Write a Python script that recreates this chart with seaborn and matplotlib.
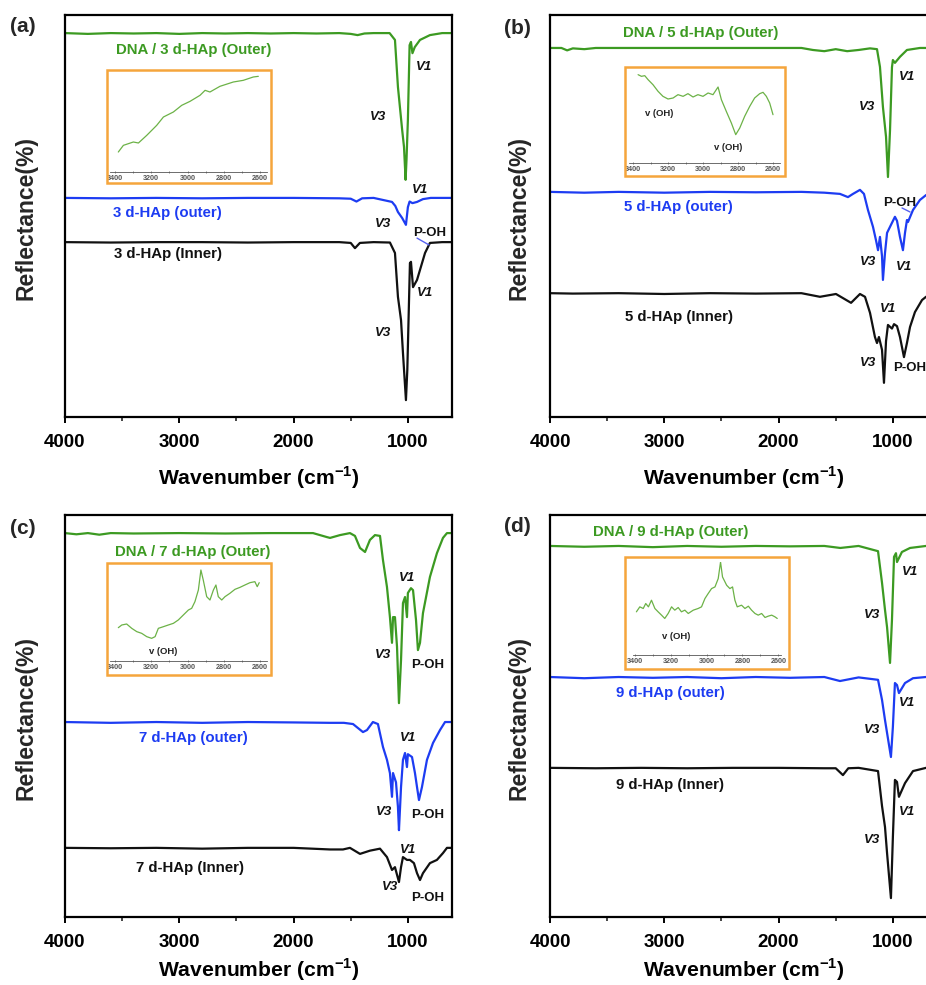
import matplotlib
matplotlib.use('Agg')
import matplotlib.pyplot as plt
import seaborn as sns
from matplotlib.patches import Rectangle
from matplotlib.ticker import MultipleLocator

# ---- spectra (wavenumber, reflectance in arbitrary offset units) ----
a_green_wn = [4000, 3800, 3600, 3400, 3200, 3000, 2800, 2600, 2400, 2200, 2000, 1800, 1600, 1500, 1440, 1380, 1300,
              1160, 1113, 1087, 1050, 1034, 1020, 1012, 1000, 985, 973, 960, 940, 894, 807, 700, 614]
a_green = [95.5, 95.3, 95.5, 95.4, 95.5, 95.3, 95.5, 95.4, 95.5, 95.4, 95.5, 95.4, 95.5, 95.3, 95.0, 95.4, 95.5,
           95.5, 93.8, 82.1, 71.4, 67.2, 59.0, 64.0, 73.9, 92.5, 93.3, 90.5, 92.0, 93.8, 95.0, 95.5, 95.5]
a_blue_wn = [4000, 3600, 3200, 2800, 2400, 2000, 1600, 1500, 1450, 1400, 1300, 1139, 1110, 1087, 1050, 1017, 1000,
             985, 960, 920, 868, 800, 614]
a_blue = [54.5, 54.4, 54.5, 54.4, 54.5, 54.5, 54.4, 54.3, 53.6, 54.4, 54.5, 53.5, 52.5, 51.0, 49.5, 47.8, 52.2,
          53.6, 53.2, 53.5, 54.2, 54.5, 54.5]
a_black_wn = [4000, 3600, 3200, 2800, 2400, 2000, 1600, 1500, 1463, 1420, 1300, 1157, 1113, 1087, 1060, 1043, 1017,
              1005, 982, 973, 955, 920, 850, 807, 700, 614]
a_black = [43.5, 43.4, 43.5, 43.5, 43.4, 43.5, 43.5, 43.3, 42.0, 43.3, 43.5, 43.4, 40.8, 29.9, 24.1, 15.9, 4.2,
           11.7, 38.3, 38.6, 32.3, 34.1, 40.8, 43.3, 43.5, 43.5]

b_green_wn = [4000, 3900, 3850, 3800, 3700, 3600, 3200, 2800, 2400, 2000, 1800, 1700, 1600, 1500, 1400, 1300, 1200,
              1139, 1113, 1087, 1060, 1043, 1025, 1008, 1000, 982, 938, 877, 763, 614]
b_green = [91.8, 91.8, 91.2, 91.7, 91.5, 91.8, 91.8, 91.8, 91.8, 91.8, 91.8, 91.3, 91.0, 91.5, 91.0, 91.3, 91.7,
           91.5, 87.1, 77.1, 69.7, 59.7, 71.4, 87.0, 88.8, 88.1, 89.6, 91.3, 91.8, 91.8]
b_blue_wn = [4000, 3700, 3400, 3000, 2600, 2200, 1800, 1600, 1463, 1393, 1349, 1288, 1253, 1218, 1174, 1148, 1130,
             1113, 1095, 1087, 1069, 1051, 1008, 982, 964, 938, 912, 894, 877, 868, 824, 763, 710, 614]
b_blue = [56.0, 55.8, 56.0, 55.8, 56.0, 55.9, 56.0, 55.8, 55.5, 54.7, 55.5, 56.5, 55.5, 51.5, 47.3, 44.0, 41.5,
          44.8, 40.0, 34.1, 40.8, 45.8, 48.3, 49.8, 48.8, 44.8, 41.5, 45.8, 49.0, 48.5, 51.5, 54.0, 55.2, 56.0]
b_black_wn = [4000, 3800, 3400, 3000, 2600, 2200, 1800, 1638, 1498, 1366, 1288, 1244, 1200, 1157, 1139, 1122, 1095,
              1078, 1060, 1043, 1008, 990, 964, 938, 903, 877, 850, 807, 745, 710, 614]
b_black = [30.8, 30.7, 30.8, 30.6, 30.8, 30.7, 30.8, 29.9, 30.6, 28.4, 30.6, 29.9, 25.9, 19.9, 18.4, 19.9, 16.7,
           8.5, 18.9, 22.9, 22.0, 23.1, 22.6, 19.9, 14.9, 18.4, 22.4, 26.1, 29.1, 29.9, 30.8]

c_green_wn = [4000, 3900, 3800, 3700, 3600, 3400, 3000, 2600, 2200, 1830, 1708, 1681, 1594, 1507, 1463, 1419, 1375,
              1332, 1288, 1244, 1218, 1183, 1157, 1139, 1130, 1113, 1095, 1078, 1060, 1043, 1025, 1008, 1000, 973,
              955, 929, 912, 894, 868, 807, 746, 693, 658, 614]
c_green = [95.5, 95.2, 95.5, 95.1, 95.5, 95.4, 95.5, 95.4, 95.5, 95.5, 94.5, 94.3, 95.0, 95.5, 94.8, 91.8, 90.8,
           93.8, 95.0, 94.8, 88.8, 82.1, 74.6, 68.2, 74.6, 74.6, 67.2, 53.2, 63.9, 78.1, 79.6, 74.6, 80.6, 81.8,
           81.3, 73.9, 66.4, 68.2, 75.6, 84.6, 90.5, 94.3, 95.5, 95.5]
c_blue_wn = [4000, 3600, 3200, 2800, 2400, 2000, 1681, 1560, 1480, 1393, 1358, 1306, 1262, 1218, 1183, 1157, 1139,
             1130, 1104, 1087, 1078, 1060, 1043, 1025, 1008, 1000, 964, 938, 920, 903, 877, 833, 780, 719, 675, 614]
c_blue = [48.5, 48.3, 48.5, 48.3, 48.5, 48.4, 48.3, 48.3, 48.0, 46.0, 46.5, 48.5, 48.0, 42.3, 39.1, 35.8, 29.9,
          35.8, 33.5, 27.4, 21.6, 32.3, 39.1, 40.8, 37.3, 40.5, 39.8, 35.8, 32.3, 29.1, 32.3, 39.1, 43.3, 46.5,
          48.5, 48.5]
c_black_wn = [4000, 3600, 3200, 2800, 2400, 2000, 1681, 1568, 1507, 1419, 1332, 1244, 1183, 1139, 1113, 1078, 1060,
              1043, 1008, 982, 947, 920, 894, 868, 807, 746, 693, 658, 614]
c_black = [17.2, 17.1, 17.2, 17.0, 17.2, 17.2, 16.8, 16.8, 17.2, 15.7, 16.5, 17.0, 14.9, 11.7, 12.4, 8.7, 12.4,
           14.9, 14.2, 14.2, 13.4, 10.9, 9.2, 10.9, 13.4, 14.2, 15.9, 17.2, 17.2]

d_green_wn = [4000, 3700, 3400, 3100, 2800, 2500, 2200, 1900, 1600, 1460, 1300, 1130, 1095, 1069, 1051, 1025, 1008,
              990, 973, 964, 921, 850, 710, 614]
d_green = [92.3, 92.1, 92.3, 92.0, 92.3, 92.1, 92.3, 92.2, 92.3, 91.8, 92.3, 91.0, 83.1, 76.4, 72.1, 63.2, 73.9,
           89.6, 90.5, 88.3, 90.8, 91.8, 92.3, 92.3]
d_blue_wn = [4000, 3700, 3400, 3100, 2800, 2500, 2200, 1900, 1600, 1463, 1300, 1130, 1095, 1069, 1051, 1017, 1000,
             982, 964, 947, 894, 824, 710, 614]
d_blue = [59.7, 59.4, 59.7, 59.5, 59.7, 59.4, 59.7, 59.5, 59.7, 58.7, 59.6, 59.0, 54.0, 49.0, 45.8, 39.8, 47.3,
          58.2, 57.7, 55.7, 58.2, 59.4, 59.7, 59.7]
d_black_wn = [4000, 3600, 3200, 2800, 2400, 2000, 1600, 1500, 1437, 1390, 1300, 1130, 1095, 1069, 1051, 1017, 1000,
              982, 964, 947, 894, 824, 710, 614]
d_black = [37.1, 37.0, 37.1, 37.0, 37.1, 37.1, 37.0, 37.0, 35.3, 37.0, 37.1, 36.3, 27.6, 22.4, 15.9, 4.7, 19.9,
           34.1, 33.6, 29.9, 33.3, 36.3, 37.1, 37.1]

# ---- inset spectra (3400-2600 cm-1 region of the DNA coated samples) ----
a_inset_wn = [3382, 3354, 3299, 3271, 3225, 3170, 3133, 3078, 3032, 2986, 2931, 2903, 2876, 2821, 2747, 2692, 2637, 2609]
a_inset = [6.0, 8.0, 9.0, 8.7, 11.0, 14.0, 16.5, 18.0, 20.0, 21.2, 23.0, 24.5, 24.0, 25.7, 27.0, 27.5, 28.5, 28.7]
b_inset_wn = [3371, 3352, 3333, 3314, 3286, 3257, 3229, 3200, 3171, 3143, 3114, 3086, 3057, 3029, 3000, 2971, 2943,
              2914, 2895, 2867, 2838, 2813, 2790, 2762, 2733, 2705, 2676, 2657, 2638, 2619, 2600]
b_inset = [26.5, 26.0, 26.2, 25.0, 23.5, 21.5, 20.0, 19.2, 19.5, 20.5, 20.0, 20.8, 19.8, 20.5, 20.0, 21.0, 20.5,
           22.8, 19.0, 15.5, 12.0, 8.5, 10.5, 14.0, 17.0, 19.5, 20.8, 21.2, 20.0, 18.0, 14.5]
c_inset_wn = [3382, 3363, 3336, 3308, 3280, 3253, 3225, 3198, 3179, 3161, 3133, 3106, 3078, 3051, 3023, 2995, 2977,
              2959, 2940, 2926, 2913, 2894, 2876, 2857, 2843, 2830, 2811, 2793, 2766, 2738, 2710, 2683, 2655, 2628,
              2615, 2604]
c_inset = [10.0, 10.8, 11.1, 9.8, 8.8, 8.3, 7.3, 6.8, 7.3, 9.8, 10.3, 10.8, 11.3, 12.3, 13.8, 15.3, 15.8, 17.8,
           21.3, 27.3, 24.3, 19.3, 18.3, 21.3, 22.8, 19.3, 18.3, 19.3, 20.3, 21.5, 22.1, 22.8, 23.5, 23.8, 22.3, 23.5]
d_inset_wn = [3391, 3372, 3353, 3339, 3324, 3307, 3288, 3270, 3251, 3233, 3214, 3195, 3177, 3158, 3140, 3121, 3102,
              3074, 3047, 3028, 3009, 2991, 2972, 2953, 2935, 2922, 2911, 2888, 2870, 2855, 2842, 2829, 2805, 2786,
              2767, 2749, 2730, 2712, 2693, 2674, 2656, 2637, 2619, 2606]
d_inset = [13.0, 14.5, 14.0, 15.5, 14.5, 16.5, 14.0, 13.0, 12.0, 11.0, 12.5, 14.5, 13.5, 14.3, 13.0, 13.5, 12.5,
           13.5, 14.0, 14.5, 17.0, 18.5, 20.0, 20.5, 23.0, 28.0, 23.5, 21.0, 20.0, 20.5, 16.5, 14.5, 15.0, 14.0,
           14.7, 13.5, 12.5, 12.0, 12.5, 11.3, 11.7, 12.0, 11.5, 11.0]

panel_tags = ['(a)', '(b)', '(c)', '(d)']
sample_names = [
    ['DNA / 3 d-HAp (Outer)', '3 d-HAp (outer)', '3 d-HAp (Inner)'],
    ['DNA / 5 d-HAp (Outer)', '5 d-HAp (outer)', '5 d-HAp (Inner)'],
    ['DNA / 7 d-HAp (Outer)', '7 d-HAp (outer)', '7 d-HAp (Inner)'],
    ['DNA / 9 d-HAp (Outer)', '9 d-HAp (outer)', '9 d-HAp (Inner)'],
]
major_ticks = [4000, 3000, 2000, 1000]
inset_ticks = [3400, 3200, 3000, 2800, 2600]

sns.set_theme(style='ticks')
plt.rcParams['font.family'] = ['Liberation Sans', 'DejaVu Sans']
plt.rcParams['font.weight'] = 'bold'
plt.rcParams['mathtext.default'] = 'bf'

GREEN = '#3c9a22'
BLUE = '#1d3cf2'
BLACK = '#111111'
ORANGE = '#f5a53c'
INSET_GREEN = '#6cb247'
COLS = [GREEN, BLUE, BLACK]

W, H = 926, 985
fig = plt.figure(figsize=(W / 100, H / 100), dpi=100)


def px_box(x0, y0, x1, y1):
    return [x0 / W, 1 - y1 / H, (x1 - x0) / W, (y1 - y0) / H]


# layout per panel (pixels) + where the text sits
layout = [
    dict(ax=(65, 15, 452, 417), tag=(23, 27), ylab=(26, 218), xpad=10,
         frame=(107, 70, 271, 183), inner=(110, 75, 267, 172), ixlim=(3428, 2561), iylim=(0, 29.1),
         names=[(2871, 91.3), (3108, 50.7), (3099, 40.5)],
         marks=[('V1', 859, 87.1), ('V3', 1262, 74.6), ('V1', 894, 56.5), ('V3', 1218, 48.0),
                ('P-OH', 807, 45.8), ('V1', 850, 30.8), ('V3', 1218, 20.9)],
         pointer=((920, 815), (44.5, 42.8)), notes=[]),
    dict(ax=(550, 15, 937, 417), tag=(517, 28), ylab=(519, 218), xpad=10,
         frame=(625, 67, 785, 176), inner=(629, 72, 780, 163), ixlim=(3423, 2560), iylim=(0, 27.3),
         names=[(2679, 95.5), (2880, 52.2), (2871, 24.9)],
         marks=[('V1', 877, 84.6), ('V3', 1227, 77.1), ('P-OH', 938, 53.2), ('V3', 1218, 38.6),
                ('V1', 903, 37.3), ('V1', 1043, 26.8), ('V3', 1218, 13.4), ('P-OH', 850, 12.2)],
         pointer=((920, 850), (52.0, 51.0)), notes=[(3248, 15.0), (2857, 4.7)]),
    dict(ax=(65, 515, 452, 917), tag=(23, 528), ylab=(26, 718), xpad=4,
         frame=(107, 563, 271, 675), inner=(110, 567, 267, 661), ixlim=(3428, 2561), iylim=(0, 28.2),
         names=[(2880, 90.8), (2880, 44.5), (2906, 12.2)],
         marks=[('V1', 1008, 84.3), ('V3', 1218, 65.2), ('P-OH', 824, 62.7), ('V1', 999, 44.5),
                ('V3', 1209, 26.1), ('P-OH', 824, 25.4), ('V1', 999, 16.7), ('V3', 1157, 7.5),
                ('P-OH', 824, 4.7)],
         pointer=None, notes=[(3133, 2.8)]),
    dict(ax=(550, 515, 937, 917), tag=(517, 527), ylab=(519, 718), xpad=4,
         frame=(625, 557, 789, 669), inner=(633, 562, 781, 655), ixlim=(3410, 2585), iylim=(0, 28),
         names=[(2941, 95.8), (2950, 55.7), (2950, 32.8)],
         marks=[('V1', 850, 85.8), ('V3', 1183, 75.1), ('V1', 877, 53.2), ('V3', 1183, 46.5),
                ('V1', 877, 26.1), ('V3', 1183, 19.2)],
         pointer=None, notes=[(3167, 5.7)]),
]

spectra = [
    [(a_green_wn, a_green), (a_blue_wn, a_blue), (a_black_wn, a_black)],
    [(b_green_wn, b_green), (b_blue_wn, b_blue), (b_black_wn, b_black)],
    [(c_green_wn, c_green), (c_blue_wn, c_blue), (c_black_wn, c_black)],
    [(d_green_wn, d_green), (d_blue_wn, d_blue), (d_black_wn, d_black)],
]
insets = [(a_inset_wn, a_inset), (b_inset_wn, b_inset), (c_inset_wn, c_inset), (d_inset_wn, d_inset)]

for i, lay in enumerate(layout):
    ax = fig.add_axes(px_box(*lay['ax']))
    for (wn, refl), col in zip(spectra[i], COLS):
        sns.lineplot(x=wn, y=refl, ax=ax, color=col, linewidth=1.6, estimator=None, sort=False)
    ax.set_xlim(4000, 614)
    ax.set_ylim(0, 100)
    ax.set_yticks([])
    ax.set_xticks(major_ticks)
    ax.xaxis.set_minor_locator(MultipleLocator(500))
    ax.tick_params(axis='x', which='major', labelsize=13.5, width=1.4, length=4, pad=8, colors='black')
    ax.tick_params(axis='x', which='minor', width=1.2, length=3)
    for lab in ax.get_xticklabels():
        lab.set_fontweight('bold')
    for sp in ax.spines.values():
        sp.set_linewidth(1.6)
        sp.set_color('black')
    ax.set_xlabel(r'Wavenumber (cm$^{\mathregular{-1}}$)', fontsize=15.2, fontweight='bold',
                  labelpad=lay['xpad'], color='black')

    for name, (x, y), col in zip(sample_names[i], lay['names'], COLS):
        ax.text(x, y, name, color=col, fontsize=10.8, fontweight='bold', ha='center', va='center')
    for s, x, y in lay['marks']:
        style = 'italic' if s.startswith('V') else 'normal'
        ax.text(x, y, s, fontsize=9.5, fontweight='bold', fontstyle=style, ha='center', va='center',
                color='#111111')
    if lay['pointer'] is not None:
        ax.plot(lay['pointer'][0], lay['pointer'][1], color='#5560f0', linewidth=1.0)

    fig.text(lay['tag'][0] / W, 1 - lay['tag'][1] / H, panel_tags[i], fontsize=15, fontweight='bold',
             ha='center', va='center')
    fig.text(lay['ylab'][0] / W, 1 - lay['ylab'][1] / H, 'Reflectance(%)', rotation=90, fontsize=16.5,
             fontweight='bold', ha='center', va='center')

    # inset: small axes inside an orange frame
    x0, y0, x1, y1 = lay['frame']
    fig.add_artist(Rectangle((x0 / W, 1 - y1 / H), (x1 - x0) / W, (y1 - y0) / H, transform=fig.transFigure,
                             fill=False, edgecolor=ORANGE, linewidth=1.8, zorder=5))
    axi = fig.add_axes(px_box(*lay['inner']))
    axi.patch.set_alpha(0)
    iwn, iy = insets[i]
    sns.lineplot(x=iwn, y=iy, ax=axi, color=INSET_GREEN, linewidth=0.9, estimator=None, sort=False)
    axi.set_xlim(*lay['ixlim'])
    axi.set_ylim(*lay['iylim'])
    axi.set_yticks([])
    axi.set_xticks(inset_ticks)
    axi.xaxis.set_minor_locator(MultipleLocator(100))
    axi.tick_params(axis='x', which='both', labelsize=5.2, length=2, width=0.5, pad=1.5,
                    colors='#555555', direction='inout')
    for side in ['left', 'right', 'top']:
        axi.spines[side].set_visible(False)
    axi.spines['bottom'].set_linewidth(0.6)
    axi.spines['bottom'].set_color('#555555')
    for x, y in lay['notes']:
        axi.text(x, y, 'v (OH)', fontsize=6.8, fontweight='bold', ha='center', va='center', color='#222222')

fig.savefig('out.png', dpi=100)
